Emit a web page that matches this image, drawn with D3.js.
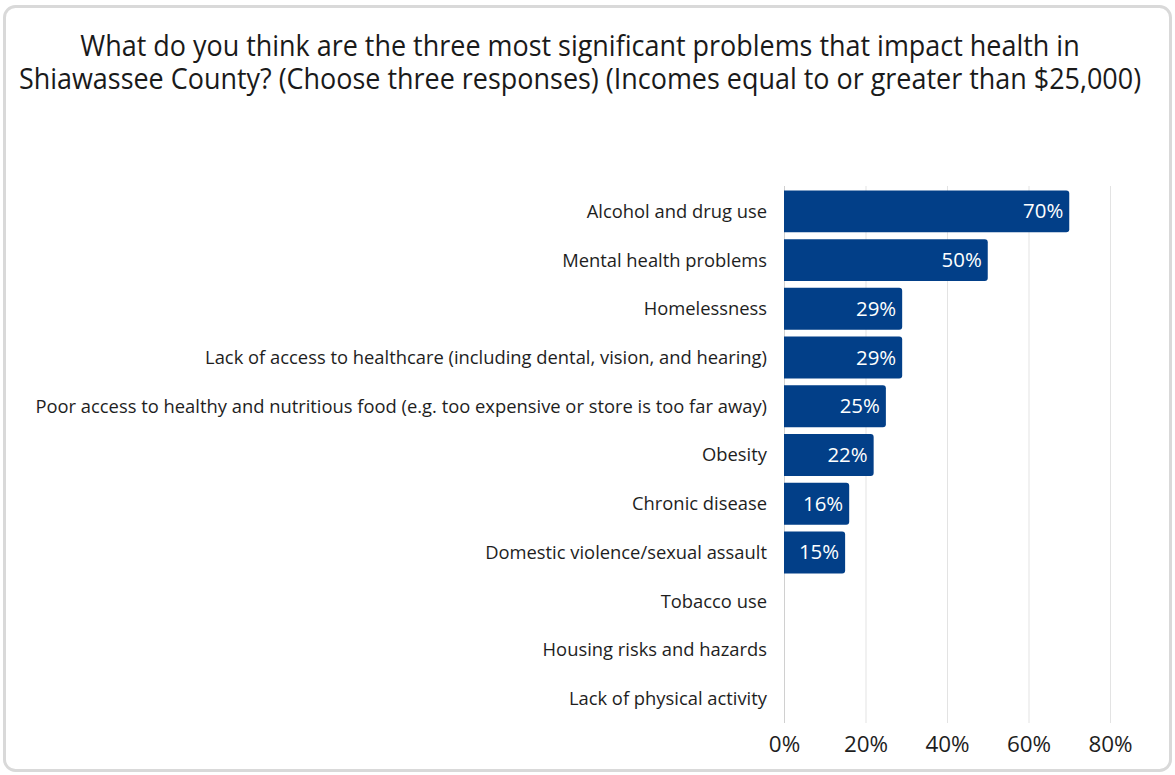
<!DOCTYPE html>
<html>
<head>
<meta charset="utf-8">
<script src="https://cdn.jsdelivr.net/npm/d3@7/dist/d3.min.js"></script>
<style>
  html, body { margin: 0; padding: 0; background: #ffffff; }
  svg { display: block; }
  text { font-family: "Open Sans", "Noto Sans", sans-serif; }
</style>
</head>
<body>
<svg id="chart" width="1175" height="775"></svg>
<script>
// Survey responses (share of respondents choosing each problem)
const titleLines = [
  "What do you think are the three most significant problems that impact health in",
  "Shiawassee County? (Choose three responses) (Incomes equal to or greater than $25,000)"
];
const categories = [
  "Alcohol and drug use",
  "Mental health problems",
  "Homelessness",
  "Lack of access to healthcare (including dental, vision, and hearing)",
  "Poor access to healthy and nutritious food (e.g. too expensive or store is too far away)",
  "Obesity",
  "Chronic disease",
  "Domestic violence/sexual assault",
  "Tobacco use",
  "Housing risks and hazards",
  "Lack of physical activity"
];
const values = [70, 50, 29, 29, 25, 22, 16, 15, null, null, null];
const tickValues = [0, 20, 40, 60, 80];

const svg = d3.select("#chart");
const W = 1175, H = 775;

// card frame
svg.append("rect")
  .attr("x", 4.5).attr("y", 6.5)
  .attr("width", 1166).attr("height", 764)
  .attr("rx", 11)
  .attr("fill", "#ffffff")
  .attr("stroke", "#d9d9d9")
  .attr("stroke-width", 3);

const plot = { left: 784, right: 1191.5, top: 187, bottom: 723 };

const x = d3.scaleLinear().domain([0, 100]).range([plot.left, plot.right]);
const y = d3.scaleBand().domain(categories)
  .range([plot.top, plot.bottom])
  .paddingInner(0.14).paddingOuter(0.07);

// condensed look: horizontally squeeze text around its anchor
function squeeze(sel, sx) {
  sel.each(function () {
    const t = d3.select(this);
    const tx = +t.attr("x"), ty = +t.attr("y");
    t.attr("transform", `translate(${tx},${ty}) scale(${sx},1) translate(${-tx},${-ty})`);
  });
}

// title: one text block, two lines
const titleX = 580;
const title = svg.append("text")
  .attr("x", titleX).attr("y", 56)
  .attr("text-anchor", "middle")
  .attr("font-size", 30)
  .attr("fill", "#1a1a1a");
const spans = title.selectAll("tspan")
  .data(titleLines).join("tspan")
  .attr("x", titleX)
  .attr("dy", (d, i) => i === 0 ? 0 : 33)
  .text(d => d);
const titleWidth = spans.nodes()[1].getComputedTextLength();
squeeze(title, 1123 / titleWidth);

// gridlines
svg.append("g").selectAll("line")
  .data(tickValues).join("line")
  .attr("x1", d => x(d) + 0.5).attr("x2", d => x(d) + 0.5)
  .attr("y1", plot.top - 1).attr("y2", plot.bottom)
  .attr("stroke", d => d === 0 ? "#d0d0d0" : "#e3e3e3")
  .attr("stroke-width", 1);

// bars with rounded outer end
const barData = categories.map((c, i) => ({ c, v: values[i] })).filter(d => d.v != null);
const r = 3;
svg.append("g").selectAll("path")
  .data(barData).join("path")
  .attr("fill", "#023f88")
  .attr("d", d => {
    const x0 = x(0), x1 = x(d.v), y0 = y(d.c), h = y.bandwidth();
    return `M${x0},${y0}H${x1 - r}Q${x1},${y0} ${x1},${y0 + r}V${y0 + h - r}Q${x1},${y0 + h} ${x1 - r},${y0 + h}H${x0}Z`;
  });

// category labels
const labels = svg.append("g").selectAll("text")
  .data(categories).join("text")
  .attr("x", 767)
  .attr("y", d => y(d) + y.bandwidth() / 2 + 6.5)
  .attr("text-anchor", "end")
  .attr("font-size", 18)
  .attr("fill", "#1e1e1e")
  .text(d => d);
const longest = d3.max(labels.nodes(), n => n.getComputedTextLength());
const sx = 732 / longest;
squeeze(labels, sx);

// value labels inside bars
const vl = svg.append("g").selectAll("text")
  .data(barData).join("text")
  .attr("x", d => x(d.v) - 6)
  .attr("y", d => y(d.c) + y.bandwidth() / 2 + 7)
  .attr("text-anchor", "end")
  .attr("font-size", 20)
  .attr("fill", "#ffffff")
  .text(d => d.v + "%");
squeeze(vl, sx);

// x axis tick labels
const xAxis = d3.axisBottom(x).tickValues(tickValues)
  .tickFormat(d => d + "%").tickSize(0).tickPadding(0);
const ax = svg.append("g")
  .attr("transform", `translate(0,${plot.bottom})`)
  .call(xAxis);
ax.select(".domain").remove();
ax.selectAll("text")
  .attr("dy", null)
  .attr("y", 29)
  .attr("x", 0)
  .attr("font-family", "\"Open Sans\", \"Noto Sans\", sans-serif")
  .attr("font-size", 22)
  .attr("fill", "#1e1e1e");
squeeze(ax.selectAll("text"), sx);
</script>
</body>
</html>
